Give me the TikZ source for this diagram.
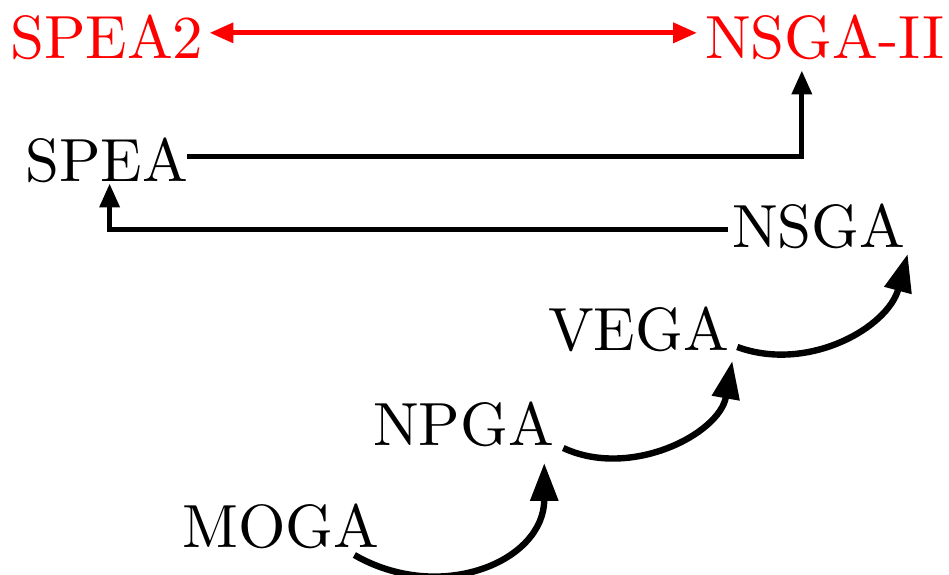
\documentclass[tikz,border=0pt]{standalone}
\usetikzlibrary{arrows.meta}
\begin{document}
\begin{tikzpicture}[x=0.164pt, y=-0.164pt,
  algo/.style={inner sep=0pt, anchor=base west, font=\normalsize},
  newer/.style={algo, text=red},
  link/.style={line width=0.8pt, -{Triangle[length=3.9pt,width=3.2pt]}},
  biglink/.style={line width=0.8pt, red, {Triangle[length=3.9pt,width=3.2pt]}-{Triangle[length=3.9pt,width=3.2pt]}},
  evolve/.style={line width=1.05pt, -{Triangle[length=6.2pt,width=4.4pt]}}]
  \useasboundingbox (0,0) rectangle (949,575);

  % second-generation algorithms
  \node[newer] (SPEA2)  at (9,58)   {SPEA2};
  \node[newer] (NSGAII) at (704,58) {NSGA-II};

  % first-generation algorithms
  \node[algo] (SPEA) at (24,181)  {SPEA};
  \node[algo] (NSGA) at (731,247) {NSGA};
  \node[algo] (VEGA) at (547,350) {VEGA};
  \node[algo] (NPGA) at (372,445) {NPGA};
  \node[algo] (MOGA) at (181,547) {MOGA};

  % SPEA2 versus NSGA-II
  \draw[biglink] ([shift={(5,-4)}]SPEA2.east) -- ([shift={(-7,-4)}]NSGAII.west);

  % elbow connectors
  \draw[link] ([shift={(-2,-3)}]SPEA.east) -| ([shift={(-23,10)}]NSGAII.south);
  \draw[link] ([shift={(-3,4)}]NSGA.west) -| ([xshift=0.5pt]SPEA.south);

  % chain of early algorithms
  \draw[evolve] ([shift={(-26,8)}]MOGA.base east) to[out=-30,in=-90,looseness=1.2] ([shift={(-11,18)}]NPGA.base east);
  \draw[evolve] ([shift={(8,3)}]NPGA.base east) to[out=-25,in=-100] ([shift={(2,11)}]VEGA.base east);
  \draw[evolve] ([shift={(7,-3)}]VEGA.base east) to[out=-20,in=-105] ([shift={(1,7)}]NSGA.base east);
\end{tikzpicture}
\end{document}
